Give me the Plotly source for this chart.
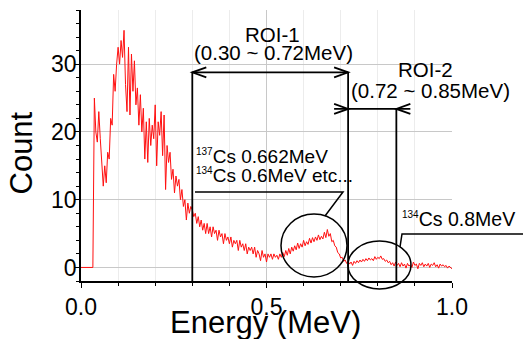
import plotly.graph_objects as go

# ---------------- data ----------------
counts = [
    0, 0, 0, 0, 0, 0, 0, 0, 0, 25,
    20, 18.5, 23, 19, 16, 12, 15, 12.5, 17, 16,
    22, 21, 28.5, 26, 30, 32.5, 30, 33.5, 31, 35,
    27, 23, 32.5, 22.5, 31.5, 26, 30.5, 24, 26.5, 21,
    25.5, 20, 23.5, 16, 21.5, 15.5, 22, 18, 21, 19,
    24, 15, 21.5, 19.5, 23, 16.5, 22.5, 11.5, 18, 15.5,
    17, 13, 14.5, 11, 13.5, 12, 13, 10, 11.5, 9,
    10, 7, 9.5, 8, 9, 8.5, 7.5, 8, 6.5, 7.5,
    6, 7, 5.5, 6.5, 5, 6.5, 5, 6, 4.5, 6,
    5, 5.5, 4, 5.5, 4.5, 5, 3.5, 5, 4, 4.5,
    3.5, 4.5, 3, 4, 3.5, 4, 2.5, 4, 3, 3.5,
    2.5, 3.5, 2, 3, 2.5, 3, 2, 3, 1.5, 2.5,
    2, 1, 2.5, 1.5, 2, 0.8, 2, 1.5, 2, 1.2,
    2, 1.5, 1.8, 1.2, 2, 1.5, 2.2, 1.6, 2.5, 1.8,
    2.8, 2, 3, 2.4, 3.2, 2.6, 3.6, 2.8, 3.5, 3,
    4, 3.2, 3.8, 3.4, 4.3, 3.6, 4.4, 3.8, 4.5, 4,
    4.8, 4.1, 4.6, 4.2, 5.2, 4.4, 5.6, 4.6, 5, 3.8,
    4, 3.2, 3, 2.2, 2, 1.4, 1.5, 0.9, 1.1, 0.6,
    0.9, 0.5, 0.8, 0.3, 0.9, 0.6, 1, 0.7, 1.1, 0.8,
    1.2, 0.9, 1.3, 1, 1.4, 1.1, 1.3, 1, 1.6, 1.2,
    1.5, 1.3, 1.7, 1.2, 1.3, 0.9, 1.1, 0.7, 0.9, 0.4,
    0.7, 0.2, 0.8, 0.3, 0.6, 0.1, 0.7, 0.2, 0.5, -0.1,
    0.6, 0.2, 0.4, 0, 0.8, 0.3, 0.5, -0.2, 0.6, 0.3,
    0.7, 0.1, 0.5, 0.2, 0.6, 0, 0.5, 0.3, 0.7, 0.1,
    0.4, -0.1, 0.5, 0.2, 0.4, 0.1, 0.3, -0.1, 0.2, 0,
    -0.2,
]
E_STEP = 0.004  # MeV per channel
energy = [round(i * E_STEP, 3) for i in range(len(counts))]

roi1 = [0.30, 0.72]
roi2 = [0.72, 0.85]
x_ticks = [0.0, 0.5, 1.0]
x_tick_labels = ["0.0", "0.5", "1.0"]
y_ticks = [0, 10, 20, 30]
y_tick_labels = ["0", "10", "20", "30"]

# ---------------- layout helpers ----------------
W, H = 523, 339
L, R, T, B = 81, 71, 10, 58
PW = W - L - R
PH = H - T - B
Y_MIN, Y_MAX = -2, 38
X_MIN, X_MAX = 0, 1.0


def px(x):
    return (x - L) / PW


def py(y):
    return (H - B - y) / PH


FONT = "Liberation Sans, Arial, sans-serif"
BLK = "black"

fig = go.Figure()
fig.add_trace(go.Scatter(x=energy, y=counts, mode="lines",
                         line=dict(color="#ff1010", width=1), hoverinfo="skip"))

shapes = []
LW = 1.8
Y1 = 28.8   # ROI-1 arrow height (data)
Y2 = 23.4   # ROI-2 arrow height (data)
DX = 14 / PW * (X_MAX - X_MIN)
DY = 5 / PH * (Y_MAX - Y_MIN)

line_style = dict(color=BLK, width=LW)
# vertical ROI boundaries
shapes.append(dict(type="line", xref="x", yref="y", x0=roi1[0], x1=roi1[0], y0=Y_MIN, y1=Y1, line=line_style))
shapes.append(dict(type="line", xref="x", yref="y", x0=roi1[1], x1=roi1[1], y0=Y_MIN, y1=Y1, line=line_style))
shapes.append(dict(type="line", xref="x", yref="y", x0=roi2[1], x1=roi2[1], y0=Y_MIN, y1=Y2, line=line_style))
# ROI-1 dimension arrow
shapes.append(dict(type="line", xref="x", yref="y", x0=roi1[0], x1=roi1[1], y0=Y1, y1=Y1, line=line_style))
shapes.append(dict(type="path", xref="x", yref="y",
                   path=f"M {roi1[0]+DX},{Y1+DY} L {roi1[0]},{Y1} L {roi1[0]+DX},{Y1-DY}", line=line_style))
shapes.append(dict(type="path", xref="x", yref="y",
                   path=f"M {roi1[1]-DX},{Y1+DY} L {roi1[1]},{Y1} L {roi1[1]-DX},{Y1-DY}", line=line_style))
# ROI-2 dimension arrow (outside arrows)
shapes.append(dict(type="line", xref="x", yref="y", x0=roi2[0]-DX, x1=roi2[1]+DX, y0=Y2, y1=Y2, line=line_style))
shapes.append(dict(type="path", xref="x", yref="y",
                   path=f"M {roi2[0]-DX},{Y2+DY} L {roi2[0]},{Y2} L {roi2[0]-DX},{Y2-DY}", line=line_style))
shapes.append(dict(type="path", xref="x", yref="y",
                   path=f"M {roi2[1]+DX},{Y2+DY} L {roi2[1]},{Y2} L {roi2[1]+DX},{Y2-DY}", line=line_style))
# ellipses (paper coords)
ell = dict(color=BLK, width=1.5)
shapes.append(dict(type="circle", xref="paper", yref="paper",
                   x0=px(281), x1=px(347), y0=py(277), y1=py(214), line=ell))
shapes.append(dict(type="circle", xref="paper", yref="paper",
                   x0=px(348), x1=px(411), y0=py(289), y1=py(241), line=ell))
# leader lines
shapes.append(dict(type="path", xref="paper", yref="paper",
                   path=f"M {px(195)},{py(192)} L {px(343)},{py(192)} L {px(325)},{py(216)}", line=ell))
shapes.append(dict(type="path", xref="paper", yref="paper",
                   path=f"M {px(400)},{py(247)} L {px(402)},{py(234)} L {px(523)},{py(234)}", line=ell))

ann = []
TF = dict(family=FONT, size=19, color=BLK)


def txt(text, x, y, xanchor="center", size=None, angle=0):
    f = dict(TF)
    if size:
        f["size"] = size
    ann.append(dict(text=text, x=px(x), y=py(y), xref="paper", yref="paper",
                    xanchor=xanchor, yanchor="middle", showarrow=False, font=f,
                    textangle=angle))


SUP = '<sup><span style="font-size:10px">{}</span></sup>'
txt("ROI-1", 272, 34, size=20.5)
txt(f"({roi1[0]:.2f} ~ {roi1[1]:.2f}MeV)", 273.5, 52, size=20.5)
txt("ROI-2", 425, 69, size=20.5)
txt(f"({roi2[0]:.2f} ~ {roi2[1]:.2f}MeV)", 430.5, 91, size=20.5)
txt(SUP.format("137") + "Cs 0.662MeV", 194, 156, xanchor="left")
txt(SUP.format("134") + "Cs 0.6MeV etc...", 194, 176, xanchor="left")
txt(SUP.format("134") + "Cs 0.8MeV", 400, 219, xanchor="left", size=19.5)
txt("Count", 21, 153.5, size=31, angle=-90)
txt("Energy (MeV)", 265.5, 322.5, size=31)

fig.update_layout(
    width=W, height=H,
    margin=dict(l=L, r=R, t=T, b=B, pad=0),
    paper_bgcolor="white", plot_bgcolor="white",
    showlegend=False,
    shapes=shapes, annotations=ann,
    font=dict(family=FONT, color=BLK),
)
fig.update_xaxes(
    range=[X_MIN, X_MAX], tickmode="array", tickvals=x_ticks, ticktext=x_tick_labels,
    showline=True, linecolor=BLK, linewidth=1.5, ticks="outside", ticklen=5, tickwidth=1.2,
    tickcolor=BLK, tickfont=dict(family=FONT, size=23, color=BLK),
    showgrid=True, gridcolor="#c8c8c8", gridwidth=1, zeroline=False,
    minor=dict(dtick=0.1, tick0=0, ticks="outside", ticklen=3, tickcolor=BLK,
               showgrid=True, gridcolor="#ececec", gridwidth=1),
)
fig.update_yaxes(
    range=[Y_MIN, Y_MAX], tickmode="array", tickvals=y_ticks, ticktext=y_tick_labels,
    showline=True, linecolor=BLK, linewidth=1.5, ticks="outside", ticklen=5, tickwidth=1.2,
    tickcolor=BLK, tickfont=dict(family=FONT, size=23, color=BLK), ticklabelstandoff=-7,
    showgrid=True, gridcolor="#c8c8c8", gridwidth=1, zeroline=False,
    minor=dict(dtick=2, tick0=0, ticks="outside", ticklen=3, tickcolor=BLK, showgrid=False),
)

fig.write_html("out.html")
